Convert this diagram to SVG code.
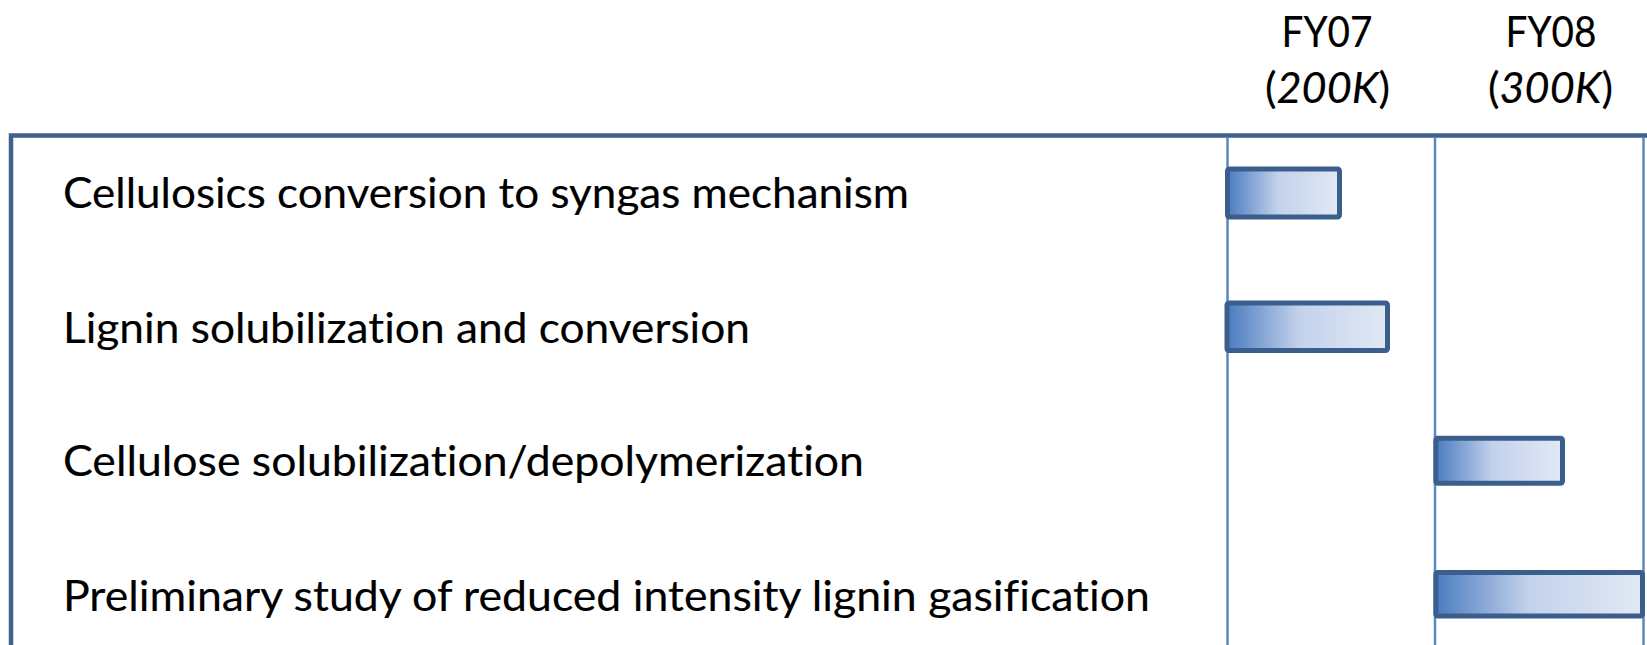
<svg xmlns="http://www.w3.org/2000/svg" width="1647" height="645" viewBox="0 0 1647 645">
<defs>
<linearGradient id="barGrad" x1="0" y1="0" x2="1" y2="0">
<stop offset="0" stop-color="#4A7CC0"/>
<stop offset="0.45" stop-color="#C3D1EB"/>
<stop offset="1" stop-color="#E2E9F5"/>
</linearGradient>
</defs>
<style>
.lbl{font-family:Lato,"Open Sans","Liberation Sans",sans-serif;font-size:43px;fill:#000;font-variant-ligatures:none;font-feature-settings:"liga" 0,"clig" 0;stroke:#000;stroke-width:0.15}
.hdr{font-family:Lato,"Open Sans","Liberation Sans",sans-serif;font-size:42px;fill:#000;text-anchor:middle;font-variant-ligatures:none;stroke:#000;stroke-width:0.15}
.it{font-style:italic}
.frame{fill:none;stroke:#3F6190;stroke-width:4.5}
.grid{stroke:#5B87C0;stroke-width:2.5}
.bar{fill:url(#barGrad);stroke:#3B5E8C;stroke-width:5}
</style>
<rect width="1647" height="645" fill="#fff"/>
<g id="frame">
<path class="frame" d="M11,660 V135.5 H1660"/>
</g>
<g id="connectors">
<line class="grid" x1="1227.5" y1="137" x2="1227.5" y2="645"/>
<line class="grid" x1="1435" y1="137" x2="1435" y2="645"/>
<line class="grid" x1="1643.5" y1="137" x2="1643.5" y2="645"/>
</g>
<g id="header-fy07">
<text class="hdr" x="1327" y="47" textLength="91" lengthAdjust="spacingAndGlyphs">FY07</text>
<text class="hdr" x="1327.5" y="103" textLength="125" lengthAdjust="spacingAndGlyphs">(<tspan class="it">200K</tspan>)</text>
</g>
<g id="header-fy08">
<text class="hdr" x="1551" y="47" textLength="91" lengthAdjust="spacingAndGlyphs">FY08</text>
<text class="hdr" x="1550.5" y="103" textLength="125" lengthAdjust="spacingAndGlyphs">(<tspan class="it">300K</tspan>)</text>
</g>
<g id="task1">
<text class="lbl" x="63" y="208" textLength="846" lengthAdjust="spacingAndGlyphs">Cellulosics conversion to syngas mechanism</text>
<rect class="bar" x="1227.5" y="169" width="112" height="48" rx="2"/>
</g>
<g id="task2">
<text class="lbl" x="63" y="342.5" textLength="687" lengthAdjust="spacingAndGlyphs">Lignin solubilization and conversion</text>
<rect class="bar" x="1227" y="303" width="160.5" height="47.5" rx="2"/>
</g>
<g id="task3">
<text class="lbl" x="63" y="476" textLength="801" lengthAdjust="spacingAndGlyphs">Cellulose solubilization/depolymerization</text>
<rect class="bar" x="1435.8" y="438.2" width="126.7" height="45" rx="2"/>
</g>
<g id="task4">
<text class="lbl" x="63" y="611" textLength="1087" lengthAdjust="spacingAndGlyphs">Preliminary study of reduced intensity lignin gasification</text>
<rect class="bar" x="1435.8" y="572.5" width="206.7" height="43.5" rx="2"/>
</g>
</svg>
